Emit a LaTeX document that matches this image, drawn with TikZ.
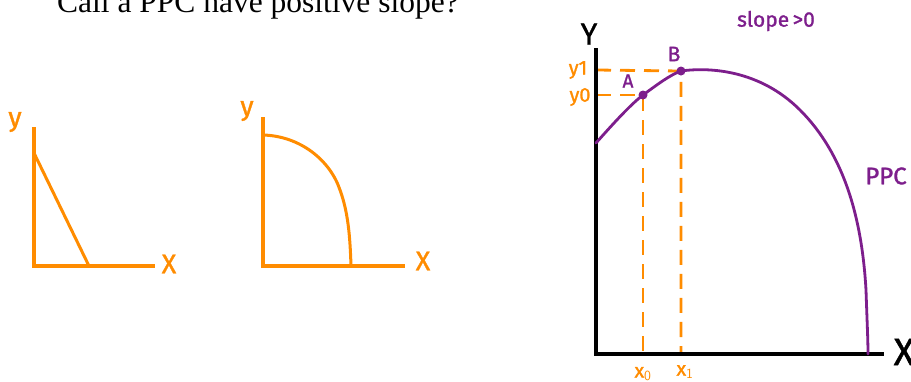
\documentclass[tikz,border=0pt]{standalone}
\usepackage{fontspec}
\setmainfont{Liberation Serif}
\newfontfamily\handfont[FakeBold=1.2]{Fira Sans}
\usetikzlibrary{positioning,calc}
\definecolor{cOrange}{RGB}{255,140,0}
\definecolor{cPurple}{RGB}{125,30,140}
\tikzset{
	oaxis/.style={draw=cOrange, line width=3.2pt},
	ocurve/.style={draw=cOrange, line width=3pt, line cap=round},
	kaxis/.style={draw=black, line width=3.2pt},
	pcurve/.style={draw=cPurple, line width=2.8pt, line cap=round},
	oguide/.style={draw=cOrange, line width=2.8pt, dash pattern=on 15pt off 9pt},
	olabel/.style={text=cOrange, font=\handfont\fontsize{27}{27}\selectfont, inner sep=0pt},
	osmall/.style={text=cOrange, font=\handfont\fontsize{20}{20}\selectfont, inner sep=0pt},
	plabel/.style={text=cPurple, font=\handfont\fontsize{21}{21}\selectfont, inner sep=0pt},
	klabel/.style={text=black, font=\handfont\fontsize{30}{30}\selectfont, inner sep=0pt},
	pdot/.style={circle, fill=cPurple, inner sep=0pt, minimum size=9pt},
}
\begin{document}
\begin{tikzpicture}[x=1pt,y=-1pt]
	\useasboundingbox[fill=white] (0,0) rectangle (911,381);
	% title, cut at the top edge
	\node[anchor=base west, inner sep=0pt, font=\fontsize{31.5}{31.5}\selectfont] (title) at (57,12) {Call a PPC have positive slope?};
	% linear PPC
	\coordinate (o1) at (34,266);
	\coordinate (t1) at (34,127);
	\coordinate (r1) at (155,266);
	\coordinate (a1) at (34,153);
	\coordinate (b1) at (89,266);
	\draw[oaxis] (t1) -- (o1) -- (r1);
	\draw[ocurve] (a1) -- (b1);
	\node[olabel] (ylab1) at (15,122) {y};
	\node[olabel] (xlab1) at (169,264) {X};
	% bowed PPC
	\coordinate (o2) at (263,266);
	\coordinate (t2) at (263,117);
	\coordinate (r2) at (405,266);
	\coordinate (a2) at (263,135);
	\coordinate (b2) at (351,266);
	\draw[oaxis] (t2) -- (o2) -- (r2);
	\draw[ocurve] (a2) .. controls (300,136) and (330,160) .. (340,190)
		.. controls (348,212) and (350,235) .. (b2);
	\node[olabel] (ylab2) at (247,111) {y};
	\node[olabel] (xlab2) at (423,261) {X};
	% PPC with positive slope
	\coordinate (o3) at (596,354);
	\coordinate (t3) at (596,48);
	\coordinate (r3) at (884,354);
	\coordinate (c0) at (596,143);
	\coordinate (ptA) at (643,95);
	\coordinate (ptB) at (681,71);
	\coordinate (c1) at (868,354);
	\coordinate (y0) at (596,95);
	\coordinate (y1) at (596,70);
	\coordinate (x0) at (643,354);
	\coordinate (x1) at (681,354);
	\draw[oguide] (y1) -- (ptB) -- (x1);
	\draw[oguide] (y0) -- (ptA) -- (x0);
	\draw[kaxis] (t3) -- (o3) -- (r3);
	\draw[pcurve] (c0) .. controls (612,125) and (630,105) .. (ptA)
		.. controls (658,84) and (670,75) .. (ptB)
		.. controls (710,67) and (760,70) .. (800,110)
		.. controls (845,155) and (862,220) .. (866,290)
		.. controls (867,320) and (868,340) .. (c1);
	\node[pdot] (dotA) at (ptA) {};
	\node[pdot] (dotB) at (ptB) {};
	\node[plabel, font=\handfont\fontsize{19}{19}\selectfont] (labA) at (628,81) {A};
	\node[plabel] (labB) at (674,54) {B};
	\node[plabel] (slope) at (776,21) {slope\,>0};
	\node[plabel, font=\handfont\fontsize{24}{24}\selectfont] (ppc) at (886,176) {PPC};
	\node[osmall] (ly1) at (578,70) {y1};
	\node[osmall] (ly0) at (580,97) {y0};
	\node[osmall] (lx0) at (643,374) {x$_{\mathsf{0}}$};
	\node[osmall] (lx1) at (685,372) {x$_{\mathsf{1}}$};
	\node[klabel] (ylab3) at (589,34) {Y};
	\node[klabel, font=\handfont\fontsize{38}{38}\selectfont] (xlab3) at (904,352) {X};
\end{tikzpicture}
\end{document}
